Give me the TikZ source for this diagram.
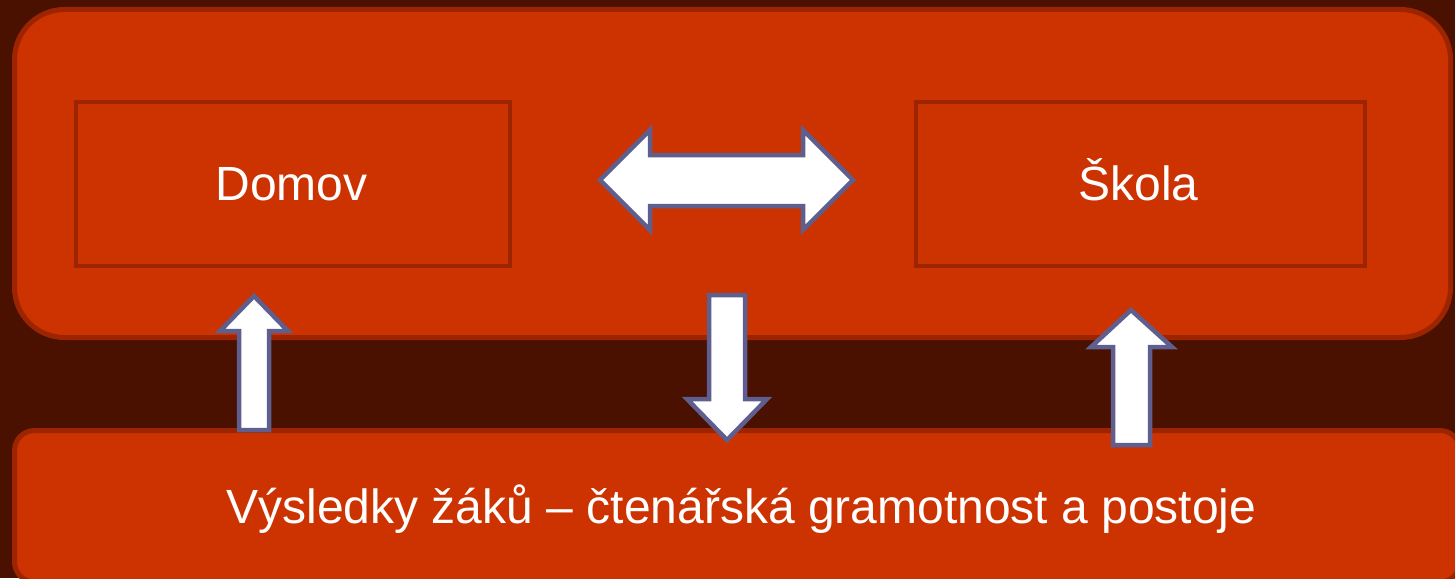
\documentclass[tikz,border=0pt]{standalone}
\usepackage{fontspec}
\setmainfont{Liberation Sans}
\definecolor{bgdark}{HTML}{4A1000}
\definecolor{boxfill}{HTML}{CC3300}
\definecolor{boxline}{HTML}{9C2400}
\definecolor{arrowline}{HTML}{5E5F8E}
\tikzset{
  panel/.style={fill=boxfill, draw=boxline, line width=5pt},
  inner/.style={draw=boxline, line width=4pt, fill=boxfill, inner sep=0pt, anchor=north west},
  label/.style={text=white, font=\fontsize{48}{57}\selectfont, inner sep=0pt, anchor=base},
  blockarrow/.style={fill=white, draw=arrowline, line width=4.5pt, line join=miter}
}
\begin{document}
\begin{tikzpicture}[x=1pt,y=-1pt]
\useasboundingbox (0,0) rectangle (1455,578);
\fill[bgdark] (0,0) rectangle (1455,578);
% panels
\draw[panel, rounded corners=50pt] (14.5,9.5) rectangle (1450.5,337.5);
\draw[panel, rounded corners=20pt] (14.5,430.5) rectangle (1460,582);
% inner boxes
\node[inner, minimum width=434pt, minimum height=164pt] (domov) at (74,100) {};
\node[inner, minimum width=449pt, minimum height=164pt] (skola) at (914,100) {};
\node[label] (domovt) at (291.5,200) {Domov};
\node[label] (skolat) at (1138.5,200) {Škola};
\node[label] (vysl) at (741.5,523) {Výsledky žáků – čtenářská gramotnost a postoje};
% double arrow
\draw[blockarrow] (600,180) -- (650,130) -- (650,155) -- (803,155) -- (803,130)
  -- (853,180) -- (803,230) -- (803,206) -- (650,206) -- (650,230) -- cycle;
% left up arrow
\draw[blockarrow] (254,296) -- (288,331) -- (269,331) -- (269,430) -- (239,430)
  -- (239,331) -- (220,331) -- cycle;
% middle down arrow
\draw[blockarrow] (727,440) -- (767,399) -- (745,399) -- (745,295) -- (709,295)
  -- (709,399) -- (687,399) -- cycle;
% right up arrow
\draw[blockarrow] (1131,310) -- (1172,347) -- (1150,347) -- (1150,445) -- (1113,445)
  -- (1113,347) -- (1091,347) -- cycle;
\end{tikzpicture}
\end{document}
